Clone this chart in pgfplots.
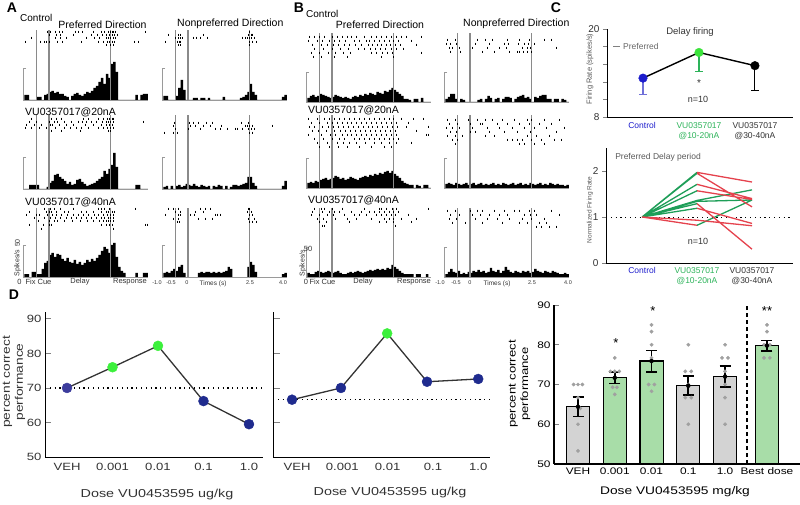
\documentclass[border=0pt]{standalone}
\usepackage{fontspec}
\setmainfont{Liberation Sans}
\newfontfamily\wsf[FakeStretch=1.25]{Liberation Sans}
\usepackage{pgfplots}
\pgfplotsset{compat=1.18}

\definecolor{vl}{HTML}{8A8A8A}
\definecolor{brk}{HTML}{9A9A9A}
\definecolor{cblue}{HTML}{1C1CCC}
\definecolor{cblueerr}{HTML}{7070D8}
\definecolor{cgreen}{HTML}{2DB35A}
\definecolor{cgpt}{HTML}{3BE33B}
\definecolor{ln}{HTML}{1E9E58}
\definecolor{lr}{HTML}{E5424D}
\definecolor{dveh}{HTML}{3C3C9C}
\definecolor{dnavy}{HTML}{1F2B8E}
\definecolor{dgreen}{HTML}{3CF03C}
\definecolor{barg}{HTML}{D3D3D3}
\definecolor{barl}{HTML}{A8DDA8}
\definecolor{dotg}{HTML}{A0A0A0}
\definecolor{txt}{HTML}{333333}

\newcommand\fs[2]{\fontsize{#1}{#2}\selectfont}

\pgfplotsset{
  rast/.style={anchor=south west, x=24.7pt, y=1pt, xmin=-1, xmax=4, ymin=0, ymax=75,
    hide axis, clip=false, enlargelimits=false},
  hist/.style={draw=none, fill=black, const plot},
  spk/.style={only marks, mark=|, mark size=1.25pt, mark options={line width=0.6pt}, black},
  panel/.style={anchor=south west, scale only axis, axis x line=bottom, axis y line=left,
    axis line style={-, line width=0.9pt}, tick align=outside,
    /pgf/number format/assume math mode=true},
}
% event lines (fix / cue / response) and the rate scale bracket
\newcommand\vlines[1]{\draw[vl, line width=1.3pt] (axis cs:-0.5,0) -- (axis cs:-0.5,#1)
  (axis cs:0,0) -- (axis cs:0,#1) (axis cs:2.5,0) -- (axis cs:2.5,#1);}
\newcommand\brk[1]{\draw[brk, line width=0.7pt] (axis cs:-0.93,#1) -- (axis cs:-1.05,#1)
  -- (axis cs:-1.05,0) -- (axis cs:4,0);}

\begin{document}
\begin{tikzpicture}
\path[use as bounding box] (0,0) rectangle (800pt,504pt);

%% ---------------- panel A ----------------
\begin{axis}[rast, at={(24.3pt,404pt)}]
\addplot[hist] coordinates {(-1.0,5)(-0.9,5)(-0.8,0)(-0.7,0)(-0.6,0)(-0.5,3)(-0.4,3)(-0.3,0)(-0.2,5)(-0.1,6)
(0.0,8)(0.1,9)(0.2,7)(0.3,8)(0.4,6)(0.5,6)(0.6,4)(0.7,3)(0.8,0)(0.9,4)
(1.0,6)(1.1,7)(1.2,5)(1.3,4)(1.4,6)(1.5,8)(1.6,7)(1.7,9)(1.8,12)(1.9,14)
(2.0,18)(2.1,22)(2.2,16)(2.3,26)(2.4,22)(2.5,36)(2.6,38)(2.7,28)(2.8,0)(2.9,0)
(3.0,0)(3.1,0)(3.2,0)(3.3,0)(3.4,0)(3.5,5)(3.6,0)(3.7,5)(3.8,6)(3.9,6)(4.0,6)} \closedcycle;
\vlines{70}
\addplot[spk] coordinates {(-0.05,68)(0.05,68)(0.25,68)(0.4,68)(0.55,68)(1.05,68)(1.2,68)(1.35,68)(1.8,68)(2.1,68)(2.25,68)(2.4,68)(2.5,68)(2.55,68)(2.6,68)(2.7,68)(3.9,68)
(0.0,65)(0.3,65)(0.45,65)(1.0,65)(1.7,65)(1.95,65)(2.15,65)(2.3,65)(2.45,65)(2.55,65)(2.65,65)(2.75,65)
(-0.7,62)(0.25,62)(0.45,62)(0.7,62)(1.5,62)(1.85,62)(2.05,62)(2.3,62)(2.4,62)(2.5,62)(2.6,62)(2.7,62)
(-0.95,58)(-0.35,58)(-0.2,58)(-0.1,58)(0.0,58)(0.35,58)(0.55,58)(1.3,58)(2.0,58)(2.2,58)(2.35,58)(2.45,58)(2.55,58)(2.65,58)(3.45,58)(3.6,58)
(2.3,55)(2.5,55)(2.6,55)};
\brk{32}
\end{axis}

\begin{axis}[rast, at={(163.3pt,404pt)}]
\addplot[hist] coordinates {(-1.0,4)(-0.9,4)(-0.8,0)(-0.7,0)(-0.6,0)(-0.5,4)(-0.4,12)(-0.3,20)(-0.2,10)(-0.1,0)
(0.0,0)(0.1,0)(0.2,2)(0.3,2)(0.4,0)(0.5,2)(0.6,2)(0.7,0)(0.8,2)(0.9,0)
(1.0,0)(1.1,0)(1.2,0)(1.3,0)(1.4,3)(1.5,0)(1.6,0)(1.7,0)(1.8,0)(1.9,0)
(2.0,0)(2.1,2)(2.2,3)(2.3,5)(2.4,8)(2.5,16)(2.6,8)(2.7,5)(2.8,0)(2.9,0)
(3.0,0)(3.1,0)(3.2,0)(3.3,0)(3.4,0)(3.5,0)(3.6,0)(3.7,0)(3.8,3)(3.9,5)(4.0,5)} \closedcycle;
\vlines{70}
\addplot[spk] coordinates {(2.5,68)
(-0.8,65)(-0.4,65)(-0.3,65)(0.6,65)(2.45,65)(2.55,65)(2.6,65)
(-0.5,62)(-0.4,62)(-0.3,62)(-0.25,62)(0.2,62)(0.35,62)(0.5,62)(0.8,62)(2.2,62)(2.3,62)(2.4,62)(2.5,62)(2.55,62)(2.7,62)
(-0.9,58)(-0.45,58)(-0.35,58)(-0.3,58)(2.5,58)(2.6,58)(2.75,58)
(-0.4,55)(-0.3,55)(2.5,55)};
\brk{32}
\end{axis}

\begin{axis}[rast, at={(24.3pt,315pt)}]
\addplot[hist] coordinates {(-1.0,0)(-0.9,0)(-0.8,4)(-0.7,4)(-0.6,4)(-0.5,4)(-0.4,0)(-0.3,0)(-0.2,0)(-0.1,2)
(0.0,6)(0.1,8)(0.2,14)(0.3,15)(0.4,12)(0.5,10)(0.6,8)(0.7,5)(0.8,7)(0.9,4)
(1.0,5)(1.1,9)(1.2,10)(1.3,7)(1.4,5)(1.5,3)(1.6,4)(1.7,5)(1.8,6)(1.9,8)
(2.0,10)(2.1,12)(2.2,18)(2.3,15)(2.4,20)(2.5,24)(2.6,36)(2.7,22)(2.8,0)(2.9,0)
(3.0,0)(3.1,0)(3.2,0)(3.3,0)(3.4,0)(3.5,4)(3.6,4)(3.7,0)(3.8,0)(3.9,0)(4.0,0)} \closedcycle;
\vlines{74}
\addplot[spk] coordinates {(-0.7,70)(0.1,70)(0.3,70)(0.5,70)(1.4,70)(1.6,70)(2.0,70)(2.2,70)(2.35,70)(2.45,70)(2.55,70)(2.6,70)
(-0.8,67)(-0.5,67)(0.0,67)(0.2,67)(0.35,67)(0.6,67)(0.9,67)(1.2,67)(1.35,67)(1.5,67)(1.7,67)(1.9,67)(2.15,67)(2.3,67)(2.4,67)(2.5,67)(2.6,67)(3.8,67)
(-0.9,64)(-0.6,64)(-0.3,64)(0.05,64)(0.15,64)(0.4,64)(0.7,64)(1.0,64)(1.45,64)(1.8,64)(2.1,64)(2.3,64)(2.45,64)(2.55,64)
(-0.95,61)(-0.7,61)(-0.4,61)(-0.1,61)(0.25,61)(0.6,61)(0.85,61)(1.1,61)(1.3,61)(1.6,61)(2.0,61)(2.2,61)(2.35,61)(2.5,61)(2.6,61)
(0.1,58)(0.5,58)(1.25,58)(2.4,58)(2.5,58)};
\brk{32}
\end{axis}

\begin{axis}[rast, at={(163.3pt,315pt)}]
\addplot[hist] coordinates {(-1.0,2)(-0.9,3)(-0.8,0)(-0.7,3)(-0.6,0)(-0.5,3)(-0.4,4)(-0.3,2)(-0.2,3)(-0.1,5)
(0.0,4)(0.1,3)(0.2,5)(0.3,3)(0.4,2)(0.5,4)(0.6,3)(0.7,2)(0.8,3)(0.9,0)
(1.0,3)(1.1,2)(1.2,4)(1.3,3)(1.4,0)(1.5,3)(1.6,0)(1.7,2)(1.8,4)(1.9,4)
(2.0,3)(2.1,4)(2.2,5)(2.3,6)(2.4,12)(2.5,12)(2.6,6)(2.7,3)(2.8,0)(2.9,0)
(3.0,0)(3.1,0)(3.2,0)(3.3,0)(3.4,0)(3.5,0)(3.6,0)(3.7,0)(3.8,3)(3.9,8)(4.0,8)} \closedcycle;
\vlines{74}
\addplot[spk] coordinates {(-0.55,66)(0.05,66)(0.2,66)(0.4,66)(0.75,66)(1.0,66)(2.15,66)(2.45,66)
(-0.6,63)(0.1,63)(0.3,63)(0.6,63)(0.9,63)(1.35,63)(2.3,63)(2.4,63)(2.5,63)(2.6,63)(3.4,63)
(-0.5,60)(0.0,60)(0.5,60)(1.1,60)(1.3,60)(1.6,60)(1.9,60)(2.0,60)(2.2,60)(2.45,60)(2.55,60)(2.7,60)
(-0.95,56)(-0.6,56)(-0.45,56)(2.5,56)(2.6,56)};
\brk{32}
\end{axis}

\begin{axis}[rast, at={(24.3pt,227pt)}]
\addplot[hist] coordinates {(-1.0,3)(-0.9,3)(-0.8,0)(-0.7,5)(-0.6,5)(-0.5,3)(-0.4,3)(-0.3,8)(-0.2,14)(-0.1,16)
(0.0,22)(0.1,24)(0.2,20)(0.3,23)(0.4,22)(0.5,18)(0.6,16)(0.7,19)(0.8,15)(0.9,14)
(1.0,17)(1.1,13)(1.2,15)(1.3,12)(1.4,14)(1.5,17)(1.6,15)(1.7,18)(1.8,16)(1.9,19)
(2.0,22)(2.1,26)(2.2,30)(2.3,28)(2.4,24)(2.5,32)(2.6,34)(2.7,20)(2.8,10)(2.9,6)
(3.0,4)(3.1,0)(3.2,0)(3.3,0)(3.4,0)(3.5,4)(3.6,0)(3.7,0)(3.8,4)(3.9,4)(4.0,4)} \closedcycle;
\vlines{69}
\addplot[spk] coordinates {(-0.2,68)(0.05,68)(0.2,68)(0.45,68)(1.0,68)(2.0,68)(2.1,68)(2.25,68)(2.45,68)(3.5,68)
(-0.8,65)(-0.1,65)(0.0,65)(0.1,65)(0.3,65)(0.6,65)(0.8,65)(1.3,65)(1.5,65)(1.8,65)(2.1,65)(2.3,65)(2.4,65)(2.55,65)(2.65,65)
(-0.9,62)(-0.5,62)(-0.4,62)(-0.05,62)(0.15,62)(0.3,62)(0.5,62)(0.75,62)(1.0,62)(1.2,62)(1.4,62)(1.6,62)(1.85,62)(2.0,62)(2.2,62)(2.35,62)(2.5,62)(2.6,62)
(-0.6,59)(-0.2,59)(0.05,59)(0.25,59)(0.45,59)(0.7,59)(0.9,59)(1.1,59)(1.3,59)(1.5,59)(1.7,59)(1.9,59)(2.1,59)(2.25,59)(2.4,59)(2.5,59)(2.6,59)
(-0.45,56)(0.0,56)(0.2,56)(0.35,56)(0.6,56)(0.95,56)(1.25,56)(1.55,56)(1.8,56)(2.05,56)(2.2,56)(2.3,56)(2.4,56)(2.5,56)(2.6,56)
(-0.8,52)(-0.25,52)(0.0,52)(0.1,52)(2.1,52)(2.3,52)(2.45,52)(2.55,52)(3.9,52)(4.0,52)
(-0.3,48)(2.6,48)};
\brk{32}
\end{axis}

\begin{axis}[rast, at={(163.3pt,227pt)}]
\addplot[hist] coordinates {(-1.0,4)(-0.9,5)(-0.8,4)(-0.7,6)(-0.6,8)(-0.5,6)(-0.4,10)(-0.3,12)(-0.2,4)(-0.1,0)
(0.0,0)(0.1,0)(0.2,0)(0.3,0)(0.4,4)(0.5,5)(0.6,4)(0.7,5)(0.8,5)(0.9,4)
(1.0,5)(1.1,4)(1.2,5)(1.3,4)(1.4,5)(1.5,6)(1.6,10)(1.7,8)(1.8,0)(1.9,0)
(2.0,0)(2.1,0)(2.2,0)(2.3,0)(2.4,10)(2.5,15)(2.6,12)(2.7,5)(2.8,0)(2.9,0)
(3.0,0)(3.1,0)(3.2,0)(3.3,0)(3.4,0)(3.5,0)(3.6,0)(3.7,0)(3.8,3)(3.9,4)(4.0,4)} \closedcycle;
\vlines{69}
\addplot[spk] coordinates {(-0.8,68)(-0.6,68)(-0.4,68)(0.5,68)(0.7,68)(0.9,68)(2.45,68)(2.5,68)
(-0.5,65)(-0.3,65)(0.3,65)(0.6,65)(2.4,65)(2.55,65)
(-0.9,62)(-0.4,62)(-0.3,62)(0.1,62)(0.25,62)(1.1,62)(1.2,62)(1.3,62)(2.5,62)(2.6,62)
(-0.6,58)(-0.4,58)(0.4,58)(0.7,58)(1.0,58)(2.45,58)(2.7,58)
(-0.45,55)(-0.35,55)(2.5,55)(2.6,55)(2.75,55)};
\brk{32}
\end{axis}

%% ---------------- panel B ----------------
\begin{axis}[rast, at={(307.3pt,402pt)}]
\addplot[hist] coordinates {(-1.0,4)(-0.9,6)(-0.8,7)(-0.7,5)(-0.6,6)(-0.5,8)(-0.4,7)(-0.3,6)(-0.2,5)(-0.1,4)
(0.0,5)(0.1,7)(0.2,6)(0.3,5)(0.4,4)(0.5,5)(0.6,4)(0.7,3)(0.8,5)(0.9,6)
(1.0,5)(1.1,7)(1.2,6)(1.3,8)(1.4,7)(1.5,9)(1.6,8)(1.7,7)(1.8,10)(1.9,9)
(2.0,8)(2.1,11)(2.2,10)(2.3,12)(2.4,14)(2.5,12)(2.6,10)(2.7,8)(2.8,6)(2.9,3)
(3.0,3)(3.1,2)(3.2,0)(3.3,3)(3.4,3)(3.5,0)(3.6,4)(3.7,0)(3.8,0)(3.9,0)(4.0,0)} \closedcycle;
\vlines{69}
\addplot[spk] coordinates {(-0.9,65)(-0.7,65)(-0.5,65)(-0.3,65)(0.0,65)(0.2,65)(0.4,65)(0.6,65)(0.8,65)(1.0,65)(1.3,65)(1.6,65)(1.8,65)(2.0,65)(2.2,65)(2.4,65)(2.6,65)(2.8,65)(3.0,65)(3.6,65)
(-0.95,61)(-0.6,61)(-0.4,61)(-0.1,61)(0.1,61)(0.3,61)(0.55,61)(0.9,61)(1.1,61)(1.4,61)(1.5,61)(1.7,61)(1.9,61)(2.1,61)(2.3,61)(2.5,61)(2.7,61)(3.2,61)
(-0.8,57)(-0.45,57)(-0.2,57)(0.05,57)(0.25,57)(0.5,57)(0.7,57)(0.95,57)(1.2,57)(1.45,57)(1.65,57)(1.85,57)(2.0,57)(2.2,57)(2.35,57)(2.55,57)(2.75,57)(3.4,57)
(-0.7,53)(-0.35,53)(0.0,53)(0.35,53)(0.65,53)(1.05,53)(1.3,53)(1.55,53)(1.75,53)(1.95,53)(2.15,53)(2.4,53)(2.6,53)(2.9,53)
(-0.85,49)(-0.5,49)(-0.15,49)(0.15,49)(0.45,49)(0.75,49)(1.6,49)(1.8,49)(2.05,49)(2.25,49)(2.45,49)(3.6,49)
(-0.75,45)(-0.45,45)(0.1,45)(0.6,45)(2.0,45)(2.5,45)};
\brk{30}
\end{axis}

\begin{axis}[rast, at={(445.3pt,402pt)}]
\addplot[hist] coordinates {(-1.0,3)(-0.9,5)(-0.8,8)(-0.7,8)(-0.6,3)(-0.5,0)(-0.4,3)(-0.3,2)(-0.2,0)(-0.1,0)
(0.0,0)(0.1,0)(0.2,0)(0.3,2)(0.4,3)(0.5,0)(0.6,3)(0.7,6)(0.8,4)(0.9,0)
(1.0,3)(1.1,4)(1.2,0)(1.3,3)(1.4,5)(1.5,5)(1.6,4)(1.7,0)(1.8,3)(1.9,5)
(2.0,6)(2.1,7)(2.2,4)(2.3,5)(2.4,3)(2.5,0)(2.6,5)(2.7,4)(2.8,6)(2.9,7)
(3.0,7)(3.1,3)(3.2,3)(3.3,0)(3.4,3)(3.5,3)(3.6,0)(3.7,3)(3.8,2)(3.9,0)(4.0,0)} \closedcycle;
\vlines{69}
\addplot[spk] coordinates {(-0.9,62)(-0.6,62)(0.3,62)(0.6,62)(0.9,62)(1.5,62)(2.0,62)(2.4,62)(3.0,62)(3.3,62)
(-0.95,58)(-0.8,58)(-0.55,58)(0.2,58)(0.8,58)(1.4,58)(1.55,58)(1.95,58)(2.2,58)(2.35,58)(2.6,58)
(-0.85,54)(-0.7,54)(-0.45,54)(0.1,54)(0.7,54)(1.2,54)(1.45,54)(2.1,54)(2.3,54)(2.45,54)(3.5,54)
(-0.8,50)(-0.4,50)(0.5,50)(1.0,50)(1.6,50)(1.9,50)(2.0,50)(2.15,50)(2.3,50)(2.5,50)};
\brk{30}
\end{axis}

\begin{axis}[rast, at={(307.3pt,316pt)}]
\addplot[hist] coordinates {(-1.0,5)(-0.9,6)(-0.8,5)(-0.7,7)(-0.6,6)(-0.5,8)(-0.4,9)(-0.3,10)(-0.2,8)(-0.1,9)
(0.0,10)(0.1,12)(0.2,11)(0.3,9)(0.4,10)(0.5,8)(0.6,9)(0.7,11)(0.8,10)(0.9,9)
(1.0,8)(1.1,10)(1.2,11)(1.3,12)(1.4,11)(1.5,13)(1.6,12)(1.7,14)(1.8,13)(1.9,15)
(2.0,14)(2.1,16)(2.2,17)(2.3,15)(2.4,17)(2.5,14)(2.6,12)(2.7,10)(2.8,7)(2.9,5)
(3.0,4)(3.1,3)(3.2,3)(3.3,0)(3.4,3)(3.5,2)(3.6,0)(3.7,3)(3.8,3)(3.9,0)(4.0,0)} \closedcycle;
\vlines{73}
\addplot[spk] coordinates {(-0.95,69)(-0.6,69)(-0.3,69)(-0.1,69)(0.1,69)(0.3,69)(0.5,69)(0.7,69)(0.9,69)(1.1,69)(1.3,69)(1.5,69)(1.7,69)(1.9,69)(2.1,69)(2.3,69)(2.5,69)(2.8,69)(3.3,69)(3.7,69)
(-0.85,65)(-0.5,65)(-0.2,65)(0.0,65)(0.2,65)(0.4,65)(0.6,65)(0.8,65)(1.0,65)(1.2,65)(1.4,65)(1.6,65)(1.8,65)(2.0,65)(2.2,65)(2.4,65)(2.6,65)(3.1,65)
(-0.9,61)(-0.7,61)(-0.4,61)(-0.15,61)(0.05,61)(0.25,61)(0.45,61)(0.65,61)(0.85,61)(1.05,61)(1.25,61)(1.45,61)(1.65,61)(1.85,61)(2.05,61)(2.25,61)(2.45,61)(2.65,61)(3.0,61)(3.9,61)
(-0.8,57)(-0.55,57)(-0.25,57)(0.1,57)(0.35,57)(0.55,57)(0.75,57)(0.95,57)(1.15,57)(1.35,57)(1.55,57)(1.75,57)(1.95,57)(2.15,57)(2.35,57)(2.55,57)(3.4,57)
(-0.95,53)(-0.45,53)(-0.05,53)(0.15,53)(0.4,53)(0.6,53)(0.8,53)(1.0,53)(1.2,53)(1.4,53)(1.6,53)(1.8,53)(2.0,53)(2.2,53)(2.4,53)(2.6,53)(3.8,53)(3.9,53)
(-0.7,49)(-0.35,49)(0.0,49)(0.3,49)(0.5,49)(0.9,49)(1.1,49)(1.3,49)(1.5,49)(1.7,49)(1.9,49)(2.1,49)(2.3,49)(2.5,49)(2.7,49)
(-0.6,45)(-0.2,45)(0.2,45)(0.45,45)(0.7,45)(1.0,45)(1.35,45)(1.7,45)(2.0,45)(2.3,45)(2.6,45)(3.2,45)
(-0.5,41)(-0.1,41)(0.25,41)(0.6,41)(1.1,41)(1.6,41)(2.1,41)(2.4,41)};
\brk{30}
\end{axis}

\begin{axis}[rast, at={(445.3pt,316pt)}]
\addplot[hist] coordinates {(-1.0,4)(-0.9,5)(-0.8,4)(-0.7,3)(-0.6,5)(-0.5,4)(-0.4,3)(-0.3,4)(-0.2,5)(-0.1,3)
(0.0,4)(0.1,5)(0.2,3)(0.3,4)(0.4,5)(0.5,3)(0.6,4)(0.7,3)(0.8,4)(0.9,5)
(1.0,3)(1.1,4)(1.2,3)(1.3,5)(1.4,4)(1.5,3)(1.6,4)(1.7,5)(1.8,3)(1.9,4)
(2.0,5)(2.1,3)(2.2,4)(2.3,3)(2.4,5)(2.5,4)(2.6,3)(2.7,4)(2.8,5)(2.9,3)
(3.0,4)(3.1,3)(3.2,5)(3.3,4)(3.4,3)(3.5,4)(3.6,3)(3.7,3)(3.8,2)(3.9,3)(4.0,3)} \closedcycle;
\vlines{73}
\addplot[spk] coordinates {(-0.9,68)(-0.6,68)(-0.05,68)(0.3,68)(0.6,68)(0.9,68)(1.3,68)(1.8,68)(2.3,68)(2.5,68)(3.0,68)(3.6,68)
(-0.85,64)(-0.5,64)(0.0,64)(0.4,64)(0.5,64)(1.1,64)(1.5,64)(2.0,64)(2.4,64)(2.8,64)(3.3,64)
(-0.95,60)(-0.7,60)(-0.45,60)(0.1,60)(0.7,60)(1.2,60)(1.7,60)(2.2,60)(2.6,60)(3.1,60)(3.8,60)
(-0.8,56)(-0.55,56)(0.0,56)(0.2,56)(0.8,56)(1.4,56)(1.9,56)(2.45,56)(3.5,56)
(-0.9,52)(-0.6,52)(-0.3,52)(0.6,52)(1.0,52)(2.3,52)(2.7,52)(3.2,52)
(-0.7,48)(-0.5,48)(1.5,48)(1.7,48)(1.9,48)(2.1,48)(2.5,48)(2.9,48)(3.4,48)(3.7,48)
(-0.6,44)(2.0,44)(2.2,44)(2.6,44)(3.0,44)};
\brk{30}
\end{axis}

\begin{axis}[rast, at={(307.3pt,227pt)}]
\addplot[hist] coordinates {(-1.0,4)(-0.9,3)(-0.8,3)(-0.7,5)(-0.6,6)(-0.5,5)(-0.4,4)(-0.3,5)(-0.2,6)(-0.1,5)
(0.0,4)(0.1,5)(0.2,6)(0.3,4)(0.4,3)(0.5,3)(0.6,4)(0.7,5)(0.8,4)(0.9,5)
(1.0,6)(1.1,5)(1.2,4)(1.3,5)(1.4,6)(1.5,7)(1.6,6)(1.7,7)(1.8,8)(1.9,7)
(2.0,8)(2.1,7)(2.2,9)(2.3,8)(2.4,12)(2.5,10)(2.6,8)(2.7,6)(2.8,4)(2.9,3)
(3.0,3)(3.1,3)(3.2,3)(3.3,0)(3.4,3)(3.5,3)(3.6,0)(3.7,0)(3.8,3)(3.9,0)(4.0,0)} \closedcycle;
\vlines{69}
\addplot[spk] coordinates {(-0.7,68)(-0.45,68)(-0.3,68)(0.0,68)(0.4,68)(1.3,68)(1.9,68)(2.0,68)(2.2,68)(2.45,68)(2.6,68)(3.9,68)
(-0.8,65)(-0.4,65)(-0.1,65)(0.1,65)(0.3,65)(0.8,65)(1.2,65)(1.5,65)(1.7,65)(1.9,65)(2.1,65)(2.3,65)(2.5,65)(2.7,65)
(-0.85,62)(-0.5,62)(-0.2,62)(0.05,62)(0.5,62)(0.9,62)(1.1,62)(1.4,62)(1.8,62)(2.0,62)(2.2,62)(2.4,62)(2.55,62)(3.1,62)
(-0.6,58)(-0.35,58)(0.15,58)(0.6,58)(1.0,58)(1.6,58)(2.1,58)(2.3,58)(2.5,58)(2.8,58)(3.4,58)
(-0.5,55)(-0.25,55)(0.7,55)(1.9,55)(2.2,55)(2.5,55)(3.2,55)
(-0.4,51)(-0.3,51)(2.55,51)};
\brk{30}
\end{axis}

\begin{axis}[rast, at={(445.3pt,227pt)}]
\addplot[hist] coordinates {(-1.0,3)(-0.9,5)(-0.8,8)(-0.7,5)(-0.6,4)(-0.5,6)(-0.4,3)(-0.3,4)(-0.2,3)(-0.1,5)
(0.0,4)(0.1,6)(0.2,5)(0.3,7)(0.4,5)(0.5,6)(0.6,4)(0.7,5)(0.8,9)(0.9,6)
(1.0,5)(1.1,7)(1.2,4)(1.3,6)(1.4,10)(1.5,7)(1.6,5)(1.7,4)(1.8,6)(1.9,5)
(2.0,4)(2.1,6)(2.2,5)(2.3,6)(2.4,4)(2.5,5)(2.6,8)(2.7,6)(2.8,5)(2.9,4)
(3.0,6)(3.1,5)(3.2,4)(3.3,6)(3.4,5)(3.5,4)(3.6,3)(3.7,3)(3.8,4)(3.9,3)(4.0,3)} \closedcycle;
\vlines{69}
\addplot[spk] coordinates {(-0.9,66)(-0.6,66)(0.0,66)(0.3,66)(0.5,66)(1.0,66)(1.4,66)(1.8,66)(2.0,66)(2.4,66)(2.6,66)(3.3,66)
(-0.8,62)(-0.45,62)(0.1,62)(0.4,62)(0.8,62)(1.2,62)(1.5,62)(2.2,62)(2.45,62)(2.7,62)(3.6,62)
(-0.85,58)(-0.55,58)(0.2,58)(0.7,58)(1.1,58)(1.6,58)(2.1,58)(2.5,58)(3.0,58)
(-0.7,54)(-0.2,54)(0.5,54)(1.3,54)(2.0,54)(2.3,54)(2.8,54)(3.1,54)
(2.7,50)(2.9,50)(3.2,50)(3.5,50)};
\brk{30}
\end{axis}

%% ---------------- panel C, delay firing ----------------
\begin{axis}[panel, at={(607pt,387pt)}, width=186pt, height=88pt,
  xmin=-0.643, xmax=2.68, ymin=8, ymax=20, clip=false,
  xtick=\empty, ytick={8,20}, minor ytick={10.4,12.8,15.2,17.6},
  major tick length=4pt, minor tick length=4pt,
  yticklabel style={font=\fs{10}{12}, text=txt}]
\addplot[black, line width=1.4pt] coordinates {(0,13.3)(1,16.8)(2,15.0)};
\addplot[cblue, only marks, mark=*, mark size=4.3pt,
  error bars/.cd, y dir=minus, y explicit, error bar style={cblueerr, line width=1.1pt},
  error mark options={rotate=90, cblueerr, mark size=4pt, line width=1.1pt}]
  coordinates {(0,13.3) +- (0,2.23)};
\addplot[cgpt, only marks, mark=*, mark size=4.3pt,
  error bars/.cd, y dir=minus, y explicit, error bar style={cgreen, line width=1.1pt},
  error mark options={rotate=90, cgreen, mark size=4pt, line width=1.1pt}]
  coordinates {(1,16.8) +- (0,2.6)};
\addplot[black, only marks, mark=*, mark size=4.3pt,
  error bars/.cd, y dir=minus, y explicit, error bar style={black, line width=1.1pt},
  error mark options={rotate=90, black, mark size=4pt, line width=1.1pt}]
  coordinates {(2,15.0) +- (0,3.43)};
\end{axis}

%% ---------------- panel C, normalised ----------------
\begin{axis}[panel, at={(606pt,241pt)}, width=187pt, height=115pt,
  xmin=-0.655, xmax=2.745, ymin=0, ymax=2.5, clip=false,
  xtick=\empty, ytick={0,1,2}, major tick length=4pt,
  yticklabel style={font=\fs{10}{12}, text=txt}, unbounded coords=jump]
\draw[black, line width=1pt, dash pattern=on 1.2pt off 3.6pt] (axis cs:-0.655,1) -- (axis cs:2.745,1);
\addplot[ln, line width=1.3pt] coordinates {(0,1)(1,1.97) (nan,nan) (0,1)(1,1.95) (nan,nan)
 (0,1)(1,1.71) (nan,nan) (0,1)(1,1.57) (nan,nan) (0,1)(1,1.36) (nan,nan) (0,1)(1,1.34) (nan,nan)
 (0,1)(1,1.29) (nan,nan) (0,1)(1,1.19) (nan,nan)
 (1,1.36)(2,1.59) (nan,nan) (1,1.34)(2,1.37) (nan,nan) (1,0.82)(2,1.37)};
\addplot[lr, line width=1.3pt] coordinates {(0,1)(1,0.93) (nan,nan) (0,1)(1,0.82) (nan,nan)
 (1,1.97)(2,1.76) (nan,nan) (1,1.95)(2,1.22) (nan,nan) (1,1.71)(2,1.40) (nan,nan)
 (1,1.57)(2,1.38) (nan,nan) (1,1.29)(2,0.30) (nan,nan) (1,1.19)(2,0.86) (nan,nan) (1,0.93)(2,0.81)};
\end{axis}

%% ---------------- panel D, left ----------------
\begin{axis}[panel, at={(45pt,47pt)}, width=218pt, height=145pt,
  xmin=-0.484, xmax=4.308, ymin=50, ymax=92, clip=false, tick align=inside,
  xtick={0,1,2,3,4}, xticklabels={VEH,0.001,0.01,0.1,1.0}, xtick style={draw=none},
  ytick={50,60,70,80,90}, major tick length=6pt, ytick style={line width=0.9pt},
  tick label style={font=\wsf\fs{10.5}{12}, text=txt}, xticklabel style={yshift=-3pt}]
\draw[black, line width=1.1pt, dash pattern=on 1.2pt off 3.6pt] (axis cs:-0.484,70) -- (axis cs:4.308,70);
\addplot[black!80, line width=1.3pt] coordinates {(0,70)(1,76)(2,82.2)(3,66.2)(4,59.5)};
\addplot[dveh, only marks, mark=*, mark size=5pt] coordinates {(0,70)};
\addplot[dgreen, only marks, mark=*, mark size=5pt] coordinates {(1,76)(2,82.2)};
\addplot[dnavy, only marks, mark=*, mark size=5pt] coordinates {(3,66.2)(4,59.5)};
\end{axis}

%% ---------------- panel D, middle ----------------
\begin{axis}[panel, at={(273pt,47pt)}, width=217pt, height=145pt,
  xmin=-0.53, xmax=4.26, ymin=50, ymax=92, clip=false, tick align=inside,
  xtick={0,1,2,3,4}, xticklabels={VEH,0.001,0.01,0.1,1.0}, xtick style={draw=none},
  ytick={50,60,70,80,90}, yticklabels={}, major tick length=7pt, ytick style={line width=0.9pt},
  tick label style={font=\wsf\fs{10.5}{12}, text=txt}, xticklabel style={yshift=-3pt}]
\draw[black, line width=1.1pt, dash pattern=on 1.2pt off 3.6pt] (axis cs:-0.53,66.6) -- (axis cs:4.26,66.6);
\addplot[black!80, line width=1.3pt] coordinates {(-0.11,66.6)(0.97,70.0)(1.99,85.8)(2.87,71.8)(4.0,72.6)};
\addplot[dnavy, only marks, mark=*, mark size=5pt] coordinates {(-0.11,66.6)(0.97,70.0)(2.87,71.8)(4.0,72.6)};
\addplot[dgreen, only marks, mark=*, mark size=5pt] coordinates {(1.99,85.8)};
\end{axis}

%% ---------------- panel D, bars ----------------
\begin{axis}[panel, at={(554pt,40pt)}, width=246pt, height=159pt,
  xmin=-0.653, xmax=6.04, ymin=50, ymax=90, tick align=inside,
  xtick={0,1,2,3,4,5.14}, xticklabels={VEH,0.001,0.01,0.1,1.0,Best dose}, xtick style={draw=none},
  ytick={50,60,70,80,90}, major tick length=4.5pt, ytick style={line width=1pt},
  axis line style={-, line width=1.1pt},
  tick label style={font=\wsf\fs{9.5}{11}, text=black}]
\addplot[ybar, bar width=0.63, bar shift=0pt, fill=barg, draw=black, line width=1.2pt]
  coordinates {(0,64.4)(3,69.7)(4,72.0)};
\addplot[ybar, bar width=0.63, bar shift=0pt, fill=barl, draw=black, line width=1.2pt]
  coordinates {(1,71.7)(2,75.9)(5.14,79.8)};
\draw[black, line width=1.5pt, dash pattern=on 4pt off 3pt] (axis cs:4.6,50) -- (axis cs:4.6,90);
\addplot[dotg, only marks, mark=*, mark size=1.7pt] coordinates {
 (-0.12,70)(0,70)(0.12,70)(0,66.7)(0.06,64)(0,60)(0,53.3)
 (1,76.7)(0.88,73.3)(1,73.3)(1.12,73.3)(0.94,69.3)(1.06,69.3)(1,67.5)
 (2,85)(2,83.3)(2,80)(2,76.7)(1.92,70)(2.08,70)(2,68.3)
 (3,80)(2.92,73.3)(3.08,73.3)(3,70)(2.92,66.7)(3.08,66.7)(3,60)
 (4,80)(3.92,76.7)(4.08,76.7)(4,73.3)(4,70)(4,66.7)(4,60)
 (5.14,85)(5.14,83.3)(5.06,80)(5.22,80)(5.06,76.7)(5.22,76.7)};
\addplot[black, only marks, mark=none,
  error bars/.cd, y dir=both, y explicit, error bar style={black, line width=1.6pt},
  error mark options={rotate=90, black, mark size=5.5pt, line width=1.6pt}]
  coordinates {(0,64.4) +- (0,2.4) (1,71.7) +- (0,1.4) (2,75.9) +- (0,2.7)
   (3,69.7) +- (0,2.4) (4,72.0) +- (0,2.6) (5.14,79.8) +- (0,1.3)};
\end{axis}

%% ---------------- text ----------------
\begin{scope}[x=1pt, y=1pt]
\node[font=\bfseries\fs{14}{16}] at (12,496) {A};
\node[font=\bfseries\fs{14}{16}] at (299,496) {B};
\node[font=\bfseries\fs{14}{16}] at (556,496) {C};
\node[font=\bfseries\fs{14}{16}] at (14,209) {D};

\node[font=\fs{10}{12}, anchor=west, inner sep=0] at (20,486.5) {Control};
\node[font=\fs{10.5}{12}, inner sep=0] at (102.5,479) {Preferred Direction};
\node[font=\fs{10.5}{12}, anchor=west, inner sep=0] at (177,480) {Nonpreferred Direction};
\node[font=\fs{10.5}{12}, anchor=west, inner sep=0] at (25,392) {VU0357017@20nA};
\node[font=\fs{10.5}{12}, anchor=west, inner sep=0] at (25,302) {VU0357017@40nA};

\node[font=\fs{10}{12}, anchor=west, inner sep=0] at (306,490) {Control};
\node[font=\fs{10.5}{12}, inner sep=0] at (380,479) {Preferred Direction};
\node[font=\fs{10.5}{12}, anchor=west, inner sep=0] at (463,480) {Nonpreferred Direction};
\node[font=\fs{10.5}{12}, anchor=west, inner sep=0] at (308,394) {VU0357017@20nA};
\node[font=\fs{10.5}{12}, anchor=west, inner sep=0] at (308,304) {VU0357017@40nA};

% A bottom
\node[font=\fs{7}{8}, rotate=90, inner sep=0, text=txt] at (17.5,241) {Spikes/s};
\node[font=\fs{7}{8}, rotate=90, inner sep=0, text=txt] at (17.5,261) {50};
\node[font=\fs{7.5}{8}, inner sep=0, text=txt] at (19.5,222) {0};
\node[font=\fs{7.5}{8}, inner sep=0, text=txt] at (38.5,222) {Fix Cue};
\node[font=\fs{7.5}{8}, inner sep=0, text=txt] at (80,222) {Delay};
\node[font=\fs{7.5}{8}, inner sep=0, text=txt] at (130,222) {Response};
\node[font=\fs{5.5}{6}, inner sep=0, text=txt] at (157,221) {-1.0};
\node[font=\fs{5.5}{6}, inner sep=0, text=txt] at (171,221) {-0.5};
\node[font=\fs{5.5}{6}, inner sep=0, text=txt] at (187,221) {0};
\node[font=\fs{6.5}{7}, inner sep=0, text=txt] at (213,220) {Times (s)};
\node[font=\fs{5.5}{6}, inner sep=0, text=txt] at (250,221) {2.5};
\node[font=\fs{5.5}{6}, inner sep=0, text=txt] at (283,221) {4.0};
% B bottom
\node[font=\fs{7}{8}, rotate=90, inner sep=0, text=txt] at (302.7,241) {Spikes/s};
\node[font=\fs{7.5}{8}, inner sep=0, text=txt] at (308,255) {50};
\node[font=\fs{7.5}{8}, inner sep=0, text=txt] at (306,222) {0};
\node[font=\fs{7.5}{8}, inner sep=0, text=txt] at (322.5,222) {Fix Cue};
\node[font=\fs{7.5}{8}, inner sep=0, text=txt] at (363,222) {Delay};
\node[font=\fs{7.5}{8}, inner sep=0, text=txt] at (414,222) {Response};
\node[font=\fs{5.5}{6}, inner sep=0, text=txt] at (440,221) {-1.0};
\node[font=\fs{5.5}{6}, inner sep=0, text=txt] at (456,221) {-0.5};
\node[font=\fs{5.5}{6}, inner sep=0, text=txt] at (470,221) {0};
\node[font=\fs{6.5}{7}, inner sep=0, text=txt] at (497,220) {Times (s)};
\node[font=\fs{5.5}{6}, inner sep=0, text=txt] at (532,221) {2.5};
\node[font=\fs{5.5}{6}, inner sep=0, text=txt] at (568,221) {4.0};

% C top
\node[font=\fs{9.5}{11}, text=txt] at (690,472) {Delay firing};
\draw[gray, line width=0.9pt] (613,458) -- (620,458);
\node[font=\fs{8.5}{10}, anchor=west, inner sep=0, text=gray!80!black] at (623,458) {Preferred};
\node[font=\fs{10}{12}, text=txt] at (699,421) {*};
\node[font=\fs{9}{10}, text=txt] at (698,405) {n=10};
\node[font=\fs{7.5}{8}, rotate=90, text=gray!70!black] at (590,435) {Firing Rate (spikes/s)};
\node[font=\fs{8.5}{10}, anchor=north, align=center, text=cblue, inner sep=0] at (642,382) {Control};
\node[font=\fs{8.5}{10}, anchor=north, align=center, text=cgreen, inner sep=0] at (699,382) {VU0357017\\@10-20nA};
\node[font=\fs{8.5}{10}, anchor=north, align=center, text=txt, inner sep=0] at (755,382) {VU0357017\\@30-40nA};
% C bottom
\node[font=\fs{8.5}{10}, text=gray!70!black] at (658,347) {Preferred Delay period};
\node[font=\fs{9}{10}, text=txt] at (698,263) {n=10};
\node[font=\fs{6.5}{8}, rotate=90, text=gray!70!black] at (590,294) {Normalized Firing Rate};
\node[font=\fs{8.5}{10}, anchor=north, align=center, text=cblue, inner sep=0] at (642,237) {Control};
\node[font=\fs{8.5}{10}, anchor=north, align=center, text=cgreen, inner sep=0] at (697,237) {VU0357017\\@10-20nA};
\node[font=\fs{8.5}{10}, anchor=north, align=center, text=txt, inner sep=0] at (752,237) {VU0357017\\@30-40nA};

% D
\node[font=\wsf\fs{11}{13}, rotate=90, align=center, text=txt] at (14,122) {percent correct\\performance};
\node[font=\wsf\fs{11.5}{13}, text=txt] at (157,9) {Dose VU0453595 ug/kg};
\node[font=\wsf\fs{11.5}{13}, text=txt] at (390,11) {Dose VU0453595 ug/kg};
\node[font=\wsf\fs{10.5}{12.5}, rotate=90, align=center, text=black] at (519.5,120) {percent correct\\performance};
\node[font=\wsf\fs{11}{13}, text=black] at (675,12) {Dose VU0453595 mg/kg};
\node[font=\fs{13}{14}] at (616,161) {*};
\node[font=\fs{13}{14}] at (653,193) {*};
\node[font=\fs{13}{14}] at (767,193) {**};
\end{scope}
\end{tikzpicture}
\end{document}
